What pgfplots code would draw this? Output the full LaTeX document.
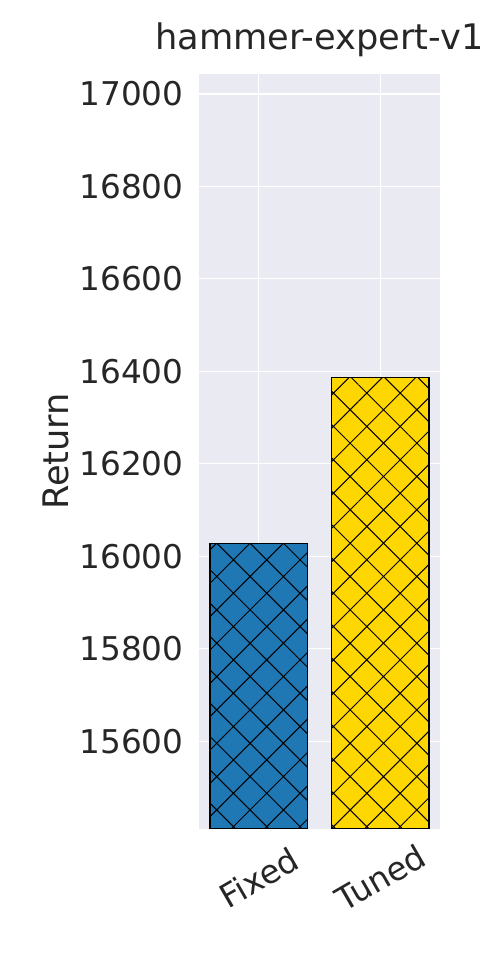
\documentclass[border=0pt]{standalone}
\usepackage{fontspec}
\setmainfont{DejaVu Sans}
\usepackage{pgfplots}
\pgfplotsset{compat=1.18}
\usetikzlibrary{patterns.meta}
\definecolor{barblue}{HTML}{1F77B4}
\definecolor{bargold}{HTML}{FFD700}
\definecolor{panelbg}{HTML}{EAEAF2}
\definecolor{txtgray}{HTML}{262626}

\begin{document}
\begin{tikzpicture}
  \path[use as bounding box] (0,0) rectangle (240pt,480pt);
  \begin{axis}[
    at={(99.5pt,65.5pt)}, anchor=south west,
    scale only axis,
    width=120.5pt, height=377.5pt,
    xmin=-0.49, xmax=1.49,
    ymin=15410, ymax=17043,
    xtick={0,1}, xticklabels={Fixed,Tuned},
    ytick={15600,15800,...,17000},
    scaled y ticks=false,
    /pgf/number format/1000 sep={},
    /pgf/number format/fixed,
    /pgf/number format/assume math mode=true,
    axis background/.style={fill=panelbg},
    axis line style={draw=none},
    major tick length=0pt,
    grid=major,
    grid style={white, line width=0.65pt},
    tick label style={font=\fontsize{16.35}{19}\selectfont, text=txtgray},
    yticklabel style={anchor=east, inner sep=0pt, xshift=-7.5pt},
    xticklabel style={anchor=center, yshift=-24.25pt, rotate=30},
    title={hammer-expert-v1},
    title style={at={(axis description cs:0.5,1.0159)}, anchor=base,
      font=\fontsize{17.6}{21}\selectfont, text=txtgray},
    ylabel={Return},
    every axis y label/.style={at={(axis description cs:-0.595,0.5)},
      rotate=90, anchor=center,
      font=\fontsize{17.6}{21}\selectfont, text=txtgray},
    ybar, bar width=0.8,
  ]
    \addplot[bar shift=0pt, fill=barblue, draw=black, line width=0.6pt,
      postaction={pattern={Hatch[angle=45,distance=11.79pt,line width=0.5pt]}, pattern color=black}]
      coordinates {(0,16028)};
    \addplot[bar shift=0pt, fill=bargold, draw=black, line width=0.6pt,
      postaction={pattern={Hatch[angle=45,distance=11.79pt,line width=0.5pt]}, pattern color=black}]
      coordinates {(1,16387)};
  \end{axis}
\end{tikzpicture}
\end{document}
